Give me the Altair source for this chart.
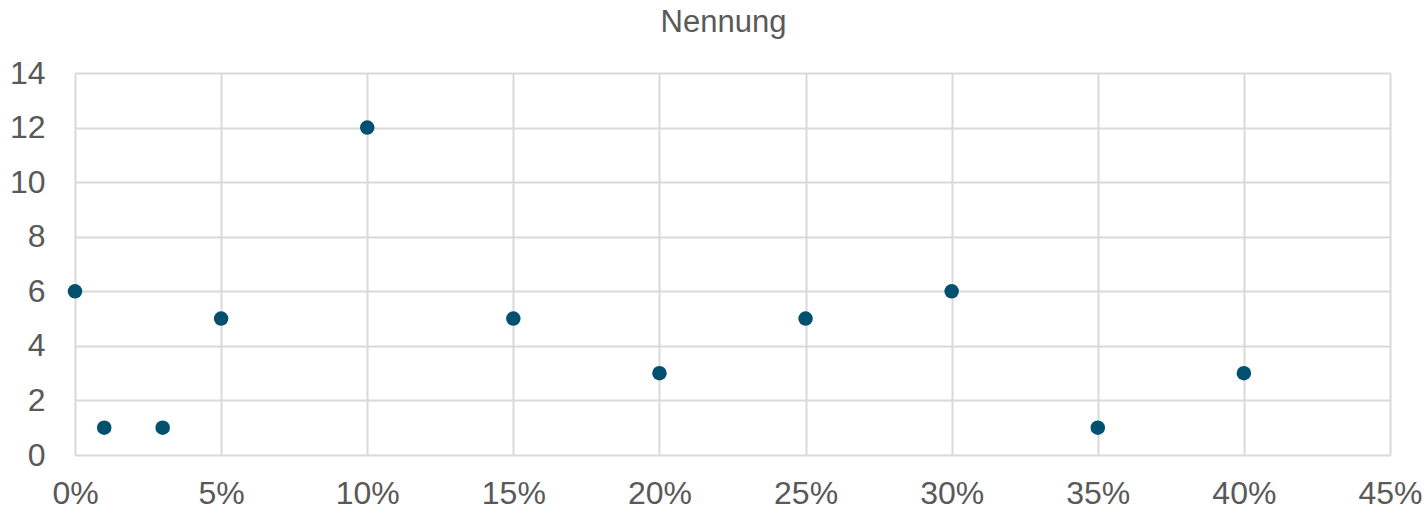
import altair as alt
import pandas as pd

anteil = [0.00, 0.01, 0.03, 0.05, 0.10, 0.15, 0.20, 0.25, 0.30, 0.35, 0.40]
nennung = [6, 1, 1, 5, 12, 5, 3, 5, 6, 1, 3]

df = pd.DataFrame({"Anteil": anteil, "Nennung": nennung})

x_ticks = [0, 0.05, 0.10, 0.15, 0.20, 0.25, 0.30, 0.35, 0.40, 0.45]
y_ticks = [0, 2, 4, 6, 8, 10, 12, 14]

grid = "#d9d9d9"
txt = "#595959"
font = "Liberation Sans"

chart = alt.Chart(df).mark_circle(size=210, color="#00506E", opacity=1).encode(
    x=alt.X("Anteil:Q", scale=alt.Scale(domain=[0, 0.45], nice=False, zero=False),
            axis=alt.Axis(values=x_ticks, format=".0%", title=None, labelPadding=23,
                          ticks=False, domain=False, grid=True, gridColor=grid, gridWidth=2,
                          labelFontSize=32, labelColor=txt, labelFont=font,
                          labelFlush=False, labelOverlap=False)),
    y=alt.Y("Nennung:Q", scale=alt.Scale(domain=[0, 14], nice=False),
            axis=alt.Axis(values=y_ticks, title=None, labelPadding=30,
                          ticks=False, domain=False, grid=True, gridColor=grid, gridWidth=2,
                          labelFontSize=32, labelColor=txt, labelFont=font,
                          labelFlush=False, labelOverlap=False)),
).properties(
    width=1315,
    height=382,
    title=alt.TitleParams("Nennung", fontSize=31, font=font, color=txt, fontWeight="normal",
                          anchor="middle", dx=-9, offset=18),
    autosize=alt.AutoSizeParams(type="none"),
    padding={"left": 75, "top": 73, "right": 36, "bottom": 54},
).configure_view(stroke=None).configure(background="white")

chart.save("out.html", embed_options={"renderer": "svg", "actions": False})
